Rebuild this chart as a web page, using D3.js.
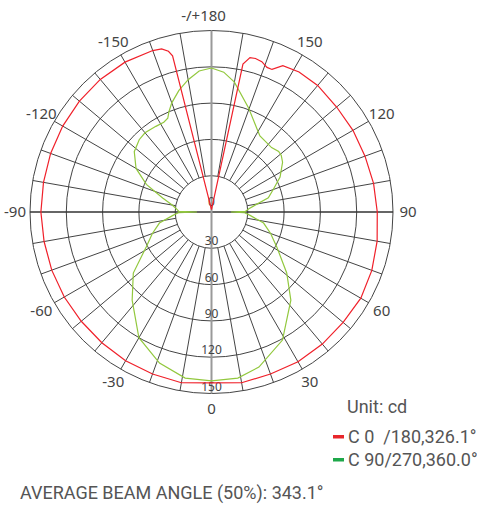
<!DOCTYPE html>
<html lang="en">
<head>
<meta charset="utf-8">
<title>Polar intensity diagram</title>
<script src="https://d3js.org/d3.v7.min.js"></script>
<style>
  body { margin: 0; background: #fff; }
  .lbl { font-family: "Noto Sans", sans-serif; fill: #444; }
  .info { font-family: Roboto, sans-serif; fill: #555; white-space: pre; }
</style>
</head>
<body>
<script>
// angle labels around the circle, ring values on the lower axis
var angleTicks = [180, 150, 120, 90, 60, 30, 0, -30, -60, -90, -120, -150];
var angleNames = ["-/+180", "150", "120", "90", "60", "30", "0", "-30", "-60", "-90", "-120", "-150"];
var ringTicks = [30, 60, 90, 120, 150];

// C0/180 plane (red)
var redAngles = [-180, -166, -165, -163, -160, -150, -140, -130, -120, -110, -100, -90, -80, -70, -60, -50, -40, -30, -20, -10,
                 0, 10, 20, 30, 40, 50, 60, 70, 80, 90, 100, 110, 120, 130, 140, 148, 154, 157, 159, 161.5, 164, 166, 168, 180];
var redValues = [2, 133, 137.5, 141, 142, 143, 143, 142.5, 142, 141.5, 141, 141, 140.5, 140.5, 140.5, 140.5, 141, 142, 142.5, 143.3,
                 141.2, 143.3, 142.5, 143, 142.5, 142, 142.5, 141, 139, 137, 136, 135, 135, 135, 136.5, 136.5, 134.5, 128, 128, 131, 132, 131.5, 125, 2];

// C90/270 plane (green)
var greenAngles = [-180, -175, -170, -165, -160, -157, -155, -152, -147, -140, -135, -128, -120, -113, -106, -100, -95, -91, -90, -89,
                   -85, -78, -70, -62, -52, -42, -30, -19, -9, 0, 9, 17, 29, 42, 51, 62, 70, 78, 85, 89,
                   90, 91, 95, 98, 104, 110, 117, 125, 129, 132, 137, 147.5, 151, 160.5, 170, 175, 180];
var greenValues = [119, 117, 111, 104, 96, 90, 85.5, 84, 84.4, 85.5, 84.5, 81, 72, 58.5, 42, 33, 29, 27, 12, 27,
                   32, 44, 52, 61, 82, 98, 120, 132, 139, 139.6, 139, 134, 121, 98, 80, 61, 52, 44, 32, 27,
                   16, 28, 31, 35, 48.4, 54.3, 63.6, 71.7, 74.2, 74.7, 72.8, 74.5, 78, 91.5, 109, 116, 119];

var width = 477, height = 509;
var cx = 211.5, cy = 212, R = 181.5;

var svg = d3.select("body").append("svg")
    .attr("width", width)
    .attr("height", height);

var r = d3.scaleLinear().domain([0, 150]).range([0, R]);
// chart angle: 0 at bottom, +90 at right  ->  d3 radial angle (0 at top, clockwise)
function rad(a) { return (180 - a) * Math.PI / 180; }

var g = svg.append("g").attr("transform", "translate(" + cx + "," + cy + ")");

// rings
g.selectAll("circle.ring")
    .data(ringTicks)
    .enter().append("circle")
    .attr("class", "ring")
    .attr("r", function(d) { return r(d); })
    .attr("fill", "none")
    .attr("stroke", "#444")
    .attr("stroke-width", 1);

// spokes every 10 degrees from the first ring outwards
var spokes = d3.range(-170, 181, 10).filter(function(a) { return a % 90 != 0; });
g.selectAll("line.spoke")
    .data(spokes)
    .enter().append("line")
    .attr("class", "spoke")
    .attr("x1", function(a) { return r(30) * Math.sin(rad(a)); })
    .attr("y1", function(a) { return -r(30) * Math.cos(rad(a)); })
    .attr("x2", function(a) { return R * Math.sin(rad(a)); })
    .attr("y2", function(a) { return -R * Math.cos(rad(a)); })
    .attr("stroke", "#444")
    .attr("stroke-width", 1);

// main axes
g.append("line")
    .attr("x1", -R).attr("x2", R).attr("y1", 0).attr("y2", 0)
    .attr("stroke", "#333").attr("stroke-width", 1.3);
g.append("line")
    .attr("x1", 0).attr("x2", 0).attr("y1", -R).attr("y2", R)
    .attr("stroke", "#999").attr("stroke-width", 2);

// ring labels
g.selectAll("text.ringlbl")
    .data([0].concat(ringTicks))
    .enter().append("text")
    .attr("class", "lbl")
    .attr("x", 0)
    .attr("y", function(d) { return d == 0 ? -6 : r(d) - 3; })
    .attr("text-anchor", "middle")
    .attr("font-size", 12)
    .attr("fill", "#555")
    .text(function(d) { return d; });

// angle labels
g.selectAll("text.anglbl")
    .data(angleTicks)
    .enter().append("text")
    .attr("class", "lbl")
    .attr("x", function(a, i) { return (R + 15) * Math.sin(rad(a)) - (a == 180 ? 8 : 0); })
    .attr("y", function(a) { return -(R + 15) * Math.cos(rad(a)); })
    .attr("dy", "0.35em")
    .attr("text-anchor", "middle")
    .attr("font-size", 15)
    .text(function(a, i) { return angleNames[i]; });

var line = d3.lineRadial()
    .angle(function(d) { return rad(d[0]); })
    .radius(function(d) { return r(d[1]); });

g.append("path")
    .datum(d3.zip(greenAngles, greenValues))
    .attr("d", line)
    .attr("fill", "none")
    .attr("stroke", "#92c83e")
    .attr("stroke-width", 1.2);

g.append("path")
    .datum(d3.zip(redAngles, redValues))
    .attr("d", line)
    .attr("fill", "none")
    .attr("stroke", "#f0202a")
    .attr("stroke-width", 1.2);

// legend
var legend = [
  { name: "C 0  /180,326.1°", color: "#e8262b" },
  { name: "C 90/270,360.0°", color: "#1ea84a" }
];
svg.append("text")
    .attr("class", "info")
    .attr("x", 347)
    .attr("y", 407)
    .attr("dy", "0.35em")
    .attr("font-size", 18)
    .text("Unit: cd");

var lg = svg.selectAll("g.leg")
    .data(legend)
    .enter().append("g")
    .attr("transform", function(d, i) { return "translate(333," + (437 + i * 23) + ")"; });
lg.append("rect")
    .attr("x", 0).attr("y", -2).attr("width", 11).attr("height", 3.5)
    .attr("fill", function(d) { return d.color; });
lg.append("text")
    .attr("class", "info")
    .attr("x", 15)
    .attr("dy", "0.35em")
    .attr("font-size", 18)
    .text(function(d) { return d.name; });

svg.append("text")
    .attr("class", "info")
    .attr("x", 20)
    .attr("y", 493)
    .attr("dy", "0.35em")
    .attr("font-size", 18)
    .text("AVERAGE BEAM ANGLE (50%): 343.1°");
</script>
</body>
</html>
